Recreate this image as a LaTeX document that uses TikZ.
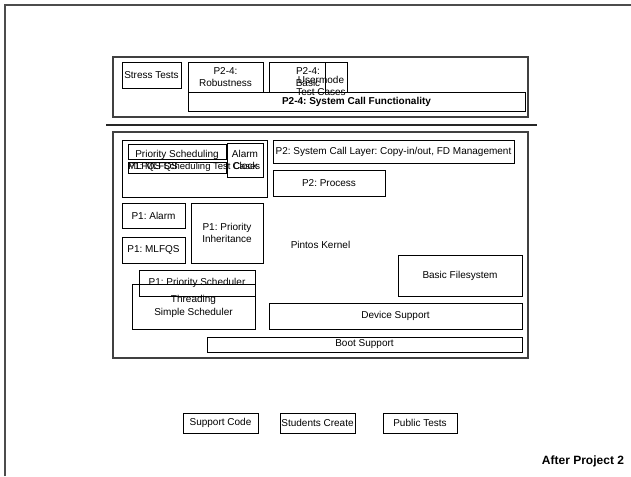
\documentclass[tikz,border=0pt]{standalone}
\usepackage{fontspec}
\setmainfont{Liberation Sans}
\usepackage{tikz}
\usetikzlibrary{positioning}
\frenchspacing

\begin{document}
\begin{tikzpicture}[x=1pt, y=-1pt,
    blk/.style={draw, line width=0.8pt, inner sep=0pt, align=center,
                font=\fontsize{10}{12.5}\selectfont},
    region/.style={draw=black!75, line width=1.2pt, inner sep=0pt,
                   font=\fontsize{10}{12}\selectfont},
    txt/.style={inner sep=0pt, align=center, font=\fontsize{10}{12.5}\selectfont},
    tiny/.style={inner sep=0pt, anchor=west, font=\fontsize{9.5}{11}\selectfont},
    rule/.style={draw=black!70, line width=1.4pt}
  ]
  \useasboundingbox (0,0) rectangle (631,476);

  %% PAGE FRAME
  \draw[rule] (5,476) -- (5,5) -- (631,5);

  %% PROJECT 2-4 TESTS
  \node[region, minimum width=415, minimum height=60] (tests) at (320.5,87) {};
  \node[blk, minimum width=59, minimum height=26] (stress) at (151.5,75) {Stress Tests};
  \node[blk, minimum width=75, minimum height=30] (robust) at (225.5,77) {P2-4:\\Robustness};
  \node[blk, minimum width=78, minimum height=30] (basic) at (308,77) {P2-4:\\Basic};
  \node[blk, minimum width=22, minimum height=30] (usermode) at (336,77) {};
  \node[txt] (usertxt) at (321,86) {Usermode\\Test Cases};
  \node[blk, minimum width=337, minimum height=19] (syscallfn) at (356.5,101.5)
    {\textbf{P2-4: System Call Functionality}};

  \draw[rule, draw=black!85] (106,125) -- (537,125);

  %% PINTOS KERNEL
  \node[region, minimum width=415, minimum height=226] (kernel) at (320.5,245) {Pintos Kernel};

  % P1 test cases
  \node[blk, minimum width=145, minimum height=57] (p1tests) at (194.5,168.5) {};
  \begin{scope}
    \clip (126,142) rectangle (228,159.3);
    \node[blk, minimum width=98, minimum height=15] (priotest) at (177,151.5) {};
    \node[txt, anchor=base] (priotxt) at (177,157.2) {Priority Scheduling};
  \end{scope}
  \node[blk, minimum width=98, minimum height=11] (mlfqstest) at (177,167.5) {};
  \node[tiny] (mlfqstxt) at (128,167.5) {P1: MLFQS};
  \node[tiny] (schedtxt) at (128,167.5) {MLFQS Scheduling Test Cases};
  \node[blk, minimum width=36, minimum height=34] (alarmtest) at (245,160) {Alarm\\Clock};

  % P2 system call layer
  \node[blk, minimum width=241, minimum height=23] (syscall) at (393.5,151.5)
    {P2: System Call Layer: Copy-in/out, FD Management};
  \node[blk, minimum width=112, minimum height=26] (process) at (329,183) {P2: Process};

  % P1 kernel parts
  \node[blk, minimum width=63, minimum height=25] (alarm) at (153.5,215.5) {P1: Alarm};
  \node[blk, minimum width=63, minimum height=26] (mlfqs) at (153.5,250) {P1: MLFQS};
  \node[blk, minimum width=72, minimum height=60] (inherit) at (227,233) {P1: Priority\\Inheritance};
  \node[blk, minimum width=116, minimum height=26] (prio) at (197,283) {P1: Priority Scheduler};
  \node[blk, minimum width=123, minimum height=45] (thread) at (193.5,306.5) {Threading\\Simple Scheduler};

  % base layers
  \node[blk, minimum width=124, minimum height=41] (fs) at (460,275.5) {Basic Filesystem};
  \node[blk, minimum width=253, minimum height=26] (device) at (395.5,316) {Device Support};
  \node[blk, minimum width=315, minimum height=15] (boot) at (364.5,344.5) {Boot Support};

  %% LEGEND
  \node[blk, minimum width=75, minimum height=20] (support) at (220.5,423) {Support Code};
  \node[blk, minimum width=75, minimum height=20] (students) at (317.5,423) {Students Create};
  \node[blk, minimum width=74, minimum height=20] (public) at (420,423) {Public Tests};

  \node[txt, font=\fontsize{12}{14}\selectfont\bfseries] (title) at (583,461) {After Project 2};
\end{tikzpicture}
\end{document}
